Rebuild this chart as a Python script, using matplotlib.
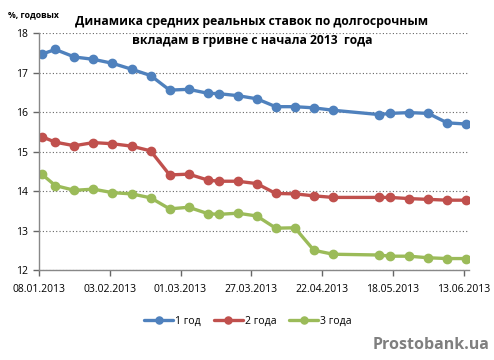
import matplotlib
matplotlib.use("Agg")
import matplotlib.pyplot as plt
import pandas as pd

dates = ["09.01.2013", "14.01.2013", "21.01.2013", "28.01.2013", "04.02.2013",
         "11.02.2013", "18.02.2013", "25.02.2013", "04.03.2013", "11.03.2013",
         "15.03.2013", "22.03.2013", "29.03.2013", "05.04.2013", "12.04.2013",
         "19.04.2013", "26.04.2013", "13.05.2013", "17.05.2013", "24.05.2013",
         "31.05.2013", "07.06.2013", "14.06.2013"]
y1 = [17.47, 17.59, 17.40, 17.34, 17.24, 17.09, 16.93, 16.56, 16.58, 16.48, 16.47,
      16.42, 16.34, 16.14, 16.14, 16.11, 16.05, 15.94, 15.97, 15.99, 15.97, 15.73, 15.70]
y2 = [15.38, 15.24, 15.15, 15.23, 15.20, 15.14, 15.02, 14.41, 14.43, 14.28, 14.25,
      14.25, 14.19, 13.94, 13.93, 13.88, 13.84, 13.84, 13.84, 13.81, 13.79, 13.77, 13.77]
y3 = [14.43, 14.14, 14.02, 14.05, 13.96, 13.93, 13.83, 13.55, 13.59, 13.43, 13.41,
      13.44, 13.37, 13.06, 13.07, 12.50, 12.40, 12.38, 12.35, 12.35, 12.31, 12.29, 12.29]
series_names = ["1 год", "2 года", "3 года"]
tick_labels = ["08.01.2013", "03.02.2013", "01.03.2013", "27.03.2013",
               "22.04.2013", "18.05.2013", "13.06.2013"]
y_ticks = [12, 13, 14, 15, 16, 17, 18]

colors = ["#4F81BD", "#C0504D", "#9BBB59"]
font = "Open Sans"

x = pd.to_datetime(dates, format="%d.%m.%Y")
xt = pd.to_datetime(tick_labels, format="%d.%m.%Y")

fig = plt.figure(figsize=(4.94, 3.6), dpi=100)
ax = fig.add_axes([39/494, 1-270/360, 430/494, (270-33.3)/360])

for ys, c, name in zip([y1, y2, y3], colors, series_names):
    ax.plot(x, ys, color=c, lw=2.4, marker="o", ms=6, label=name,
            solid_capstyle="round")

ax.set_ylim(12, 18)
ax.set_yticks(y_ticks)
ax.set_xlim(xt[0], xt[0] + pd.Timedelta(days=158))
ax.set_xticks(xt)
ax.set_xticklabels(tick_labels, fontsize=7.5, family=font)
ax.set_yticklabels([str(v) for v in y_ticks], fontsize=7.5, family=font)
ax.tick_params(axis="both", colors="#666666", length=4, width=1, labelcolor="black")
ax.tick_params(axis="x", pad=6)
ax.tick_params(axis="y", pad=4)
ax.yaxis.grid(True, linestyle=(0, (1, 2)), color="#666666", lw=0.8)
ax.set_axisbelow(True)
for s in ["top", "right"]:
    ax.spines[s].set_visible(False)
for s in ["left", "bottom"]:
    ax.spines[s].set_color("#888888")
    ax.spines[s].set_linewidth(1)

fig.text(8/494, 1-15/360, "%, годовых", fontsize=6.2, family=font,
         fontweight="bold", va="center", ha="left")
fig.text(252/494, 1-31/360,
         "Динамика средних реальных ставок по долгосрочным\nвкладам в гривне с начала 2013  года",
         fontsize=8.7, family=font, fontweight="bold", ha="center", va="center",
         linespacing=1.65)

fig.legend(loc="center", bbox_to_anchor=(248/494, 1-321/360), ncol=3, frameon=False,
           prop={"family": font, "size": 7.5}, handlelength=2.8, columnspacing=1.2,
           handletextpad=0.2, markerscale=0.85)

fig.text(489/494, 1-345/360, "Prostobank.ua", fontsize=11.5, family=font,
         fontweight="bold", color="#7f7f7f", ha="right", va="center")

fig.savefig("out.png", dpi=100, facecolor="white")
